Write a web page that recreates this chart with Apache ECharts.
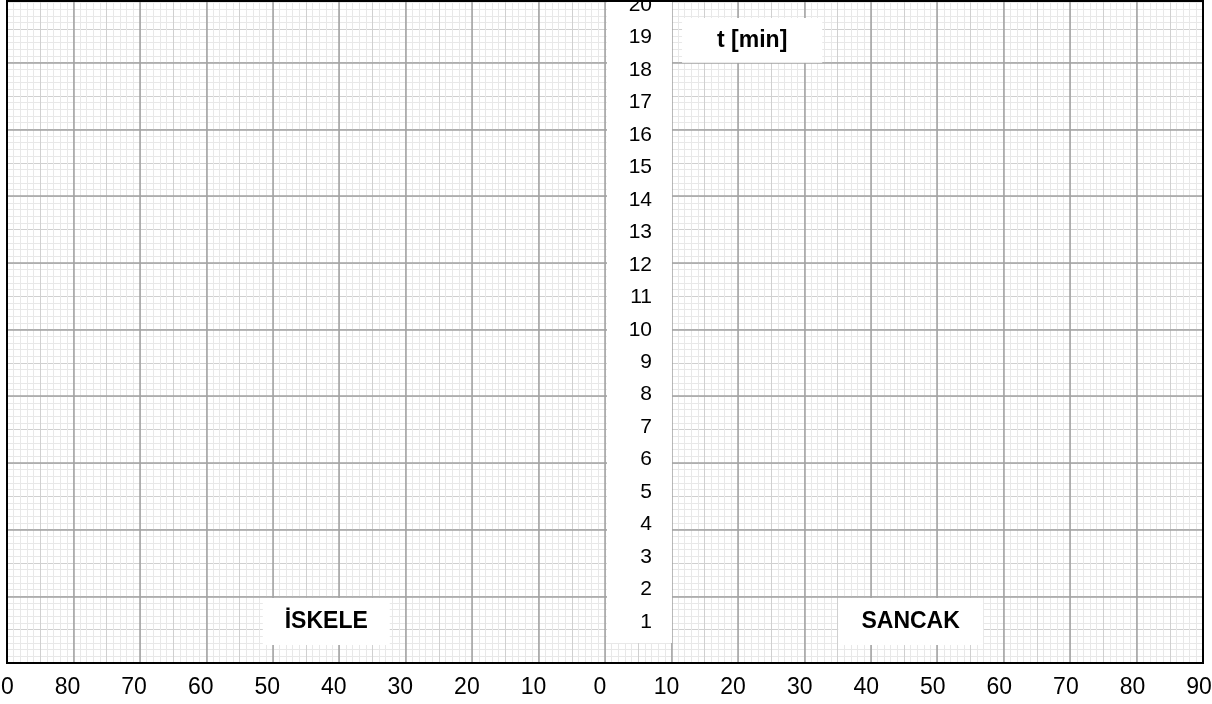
<!DOCTYPE html>
<html><head><meta charset="utf-8">
<script src="https://cdn.jsdelivr.net/npm/echarts@6/dist/echarts.min.js"></script>
<style>html,body{margin:0;padding:0;background:#fff}#c{width:1212px;height:704px}</style>
</head><body><div id="c"></div>
<script>
// ---- data ----
const minutes = [1,2,3,4,5,6,7,8,9,10,11,12,13,14,15,16,17,18,19,20];
const offsetTicks = [90,80,70,60,50,40,30,20,10,0,10,20,30,40,50,60,70,80,90];
const sideNames = ['İSKELE', 'SANCAK'];
const timeTitle = 't [min]';
const offsetRange = [-90, 90];
const timeRange = [0, 20];
const paperRange = [0, 100];

const FONT = 'Liberation Sans, Arial, sans-serif';
const chart = echarts.init(document.getElementById('c'), null, {renderer: 'canvas'});

const hiddenAxis = (g) => ({gridIndex: g, type: 'value', min: 0, max: 1, show: false});
const NB = {outerBoundsMode: 'none', containLabel: false};

const option = {
  backgroundColor: '#ffffff',
  animation: false,
  grid: [
    Object.assign({left: 7, right: 9, top: -4, bottom: 41, show: false}, NB),          // graph paper
    Object.assign({left: 607, right: 540, top: 5, bottom: 49.5, show: false}, NB),     // time axis
    Object.assign({left: 1, right: 13, top: 0, bottom: 41, show: false}, NB),          // offset labels
    Object.assign({left: 7, right: 9, top: 1, bottom: 41, show: true, z: 3,
     borderColor: '#000', borderWidth: 2, backgroundColor: 'transparent'}, NB)        // frame
  ],
  xAxis: [
    {gridIndex: 0, type: 'value', min: offsetRange[0], max: offsetRange[1], interval: 10, z: 1,
     axisLine: {show: false}, axisTick: {show: false}, axisLabel: {show: false},
     splitLine: {show: true, lineStyle: {color: '#a2a2a2', width: 1.5}}},
    {gridIndex: 0, type: 'value', min: offsetRange[0], max: offsetRange[1], interval: 5, z: 0,
     axisLine: {show: false}, axisTick: {show: false}, axisLabel: {show: false},
     minorTick: {show: false, splitNumber: 5},
     splitLine: {show: true, lineStyle: {color: '#d0d0d0', width: 1}},
     minorSplitLine: {show: true, lineStyle: {color: '#e8e8e8', width: 1}}},
    hiddenAxis(1),
    {gridIndex: 2, type: 'value', min: offsetRange[0], max: offsetRange[1], interval: 10,
     axisLine: {show: false}, axisTick: {show: false}, splitLine: {show: false},
     axisLabel: {show: true, margin: 13, fontSize: 23, color: '#000', fontFamily: FONT,
       formatter: (v) => String(offsetTicks[Math.round((v - offsetRange[0]) / 10)])}},
    hiddenAxis(3)
  ],
  yAxis: [
    {gridIndex: 0, type: 'value', min: paperRange[0], max: paperRange[1], interval: 10, z: 1,
     axisLine: {show: false}, axisTick: {show: false}, axisLabel: {show: false},
     splitLine: {show: true, lineStyle: {color: '#a2a2a2', width: 1.5}}},
    {gridIndex: 0, type: 'value', min: paperRange[0], max: paperRange[1], interval: 5, z: 0,
     axisLine: {show: false}, axisTick: {show: false}, axisLabel: {show: false},
     minorTick: {show: false, splitNumber: 5},
     splitLine: {show: true, lineStyle: {color: '#d0d0d0', width: 1}},
     minorSplitLine: {show: true, lineStyle: {color: '#e8e8e8', width: 1}}},
    {gridIndex: 1, type: 'value', min: timeRange[0], max: timeRange[1], interval: 1, position: 'right', z: 6,
     axisLine: {show: false}, axisTick: {show: false}, splitLine: {show: false},
     axisLabel: {show: true, inside: true, margin: 20, fontSize: 21, color: '#000', fontFamily: FONT,
       showMinLabel: false,
       formatter: (v) => minutes.indexOf(v) >= 0 ? String(v) : ''}},
    hiddenAxis(2),
    hiddenAxis(3)
  ],
  series: [
    {
      type: 'line', xAxisIndex: 0, yAxisIndex: 0, data: [], z: 4, clip: false, silent: true,
      markArea: {
        silent: true,
        itemStyle: {color: '#ffffff', opacity: 1, borderWidth: 0},
        label: {show: true, position: 'inside', formatter: '{b}', color: '#000',
                fontWeight: 'bold', fontSize: 23, fontFamily: FONT},
        emphasis: {disabled: true},
        data: [
          [{name: '', xAxis: 0.45, yAxis: 3.15, itemStyle: {borderColor: '#ffffff', borderWidth: 2}},
           {xAxis: 9.93, yAxis: 'max'}],
          [{name: timeTitle, xAxis: 11.6, yAxis: 90.0}, {xAxis: 32.7, yAxis: 96.7}],
          [{name: sideNames[0], xAxis: -51.5, yAxis: 2.7}, {xAxis: -32.4, yAxis: 9.75}],
          [{name: sideNames[1], xAxis: 35.1, yAxis: 2.7}, {xAxis: 56.9, yAxis: 9.75}]
        ]
      }
    }
  ]
};
chart.setOption(option);
</script></body></html>
